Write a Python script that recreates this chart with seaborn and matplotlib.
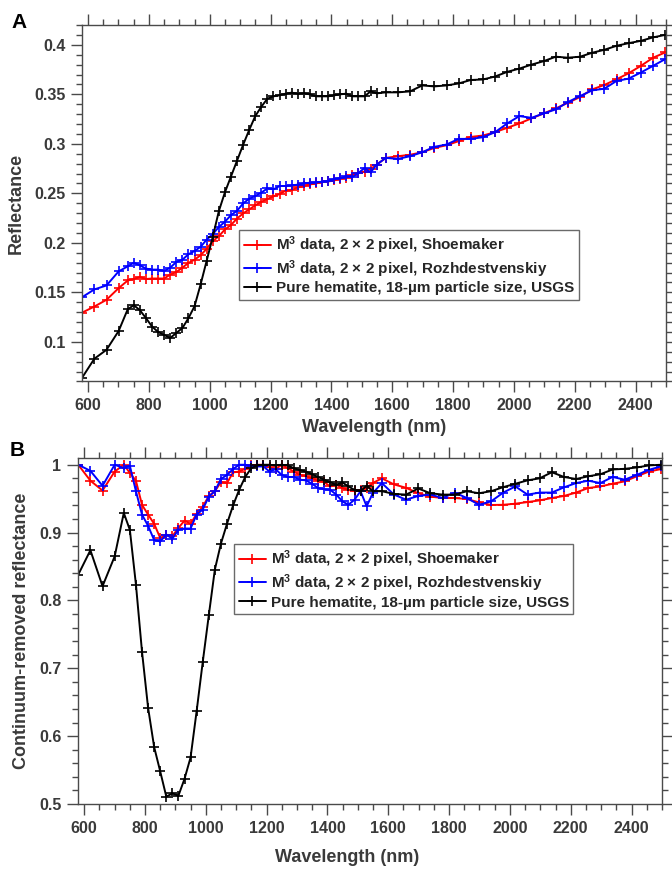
import numpy as np
import pandas as pd
import matplotlib
matplotlib.use("Agg")
import matplotlib.pyplot as plt
import seaborn as sns
from matplotlib.ticker import MultipleLocator, FuncFormatter

# ---------------- data ----------------
wavelength = [
    580.76, 620.69, 660.61, 700.54, 730.48, 750.44, 770.40, 790.37, 810.33, 830.29,
    850.25, 870.21, 890.17, 910.14, 930.10, 950.06, 970.02, 989.98, 1009.95, 1029.91,
    1049.87, 1069.83, 1089.79, 1109.76, 1129.72, 1149.68, 1169.64, 1189.60, 1209.57, 1229.53,
    1249.49, 1269.45, 1289.41, 1309.38, 1329.34, 1349.30, 1369.26, 1389.22, 1409.19, 1429.15,
    1449.11, 1469.07, 1489.03, 1508.99, 1528.96, 1548.92, 1578.86, 1618.79, 1658.71, 1698.63,
    1738.56, 1778.48, 1818.40, 1858.33, 1898.25, 1938.17, 1978.10, 2018.02, 2057.94, 2097.87,
    2137.79, 2177.71, 2217.64, 2257.56, 2297.48, 2337.41, 2377.33, 2417.25, 2457.18, 2497.10,
]

refl_shoemaker = [
    0.1296, 0.1357, 0.1425, 0.1543, 0.162, 0.1635, 0.1655, 0.1635, 0.164, 0.164,
    0.164, 0.168, 0.1705, 0.175, 0.1797, 0.183, 0.1875, 0.194, 0.2017, 0.2067,
    0.2135, 0.218, 0.2246, 0.2297, 0.2338, 0.2378, 0.2415, 0.2443, 0.247, 0.2493,
    0.2527, 0.2534, 0.256, 0.2574, 0.259, 0.260, 0.2615, 0.262, 0.263, 0.265,
    0.2658, 0.2689, 0.2706, 0.272, 0.2746, 0.279, 0.2858, 0.2875, 0.289, 0.2915,
    0.2959, 0.2986, 0.3027, 0.307, 0.3084, 0.3118, 0.3162, 0.3206, 0.3257, 0.3307,
    0.3358, 0.3415, 0.3473, 0.355, 0.3595, 0.3652, 0.3713, 0.3787, 0.3869, 0.3923,
]

refl_rozhdestvenskiy = [
    0.1452, 0.153, 0.157, 0.1712, 0.1763, 0.180, 0.1773, 0.174, 0.173, 0.173,
    0.1716, 0.175, 0.1807, 0.183, 0.1885, 0.1918, 0.196, 0.2033, 0.2088, 0.216,
    0.2213, 0.228, 0.2324, 0.2398, 0.2446, 0.2473, 0.2507, 0.255, 0.254, 0.2574,
    0.2574, 0.258, 0.2588, 0.260, 0.2608, 0.261, 0.2618, 0.2625, 0.2645, 0.2655,
    0.2672, 0.2665, 0.2706, 0.2756, 0.2712, 0.279, 0.2858, 0.2848, 0.2875, 0.2915,
    0.297, 0.2993, 0.305, 0.305, 0.3067, 0.3118, 0.3206, 0.328, 0.3263, 0.3307,
    0.3348, 0.3422, 0.3483, 0.354, 0.3557, 0.3635, 0.3659, 0.372, 0.3787, 0.3855,
]

refl_hematite = [
    0.064, 0.083, 0.092, 0.111, 0.133, 0.137, 0.132, 0.124, 0.1155, 0.110,
    0.107, 0.104, 0.109, 0.114, 0.124, 0.136, 0.158, 0.182, 0.206, 0.232,
    0.251, 0.267, 0.283, 0.299, 0.314, 0.328, 0.3375, 0.3456, 0.348, 0.349,
    0.3507, 0.3517, 0.3507, 0.351, 0.350, 0.348, 0.348, 0.348, 0.349, 0.350,
    0.3507, 0.348, 0.348, 0.348, 0.353, 0.351, 0.352, 0.352, 0.353, 0.359,
    0.358, 0.359, 0.361, 0.3645, 0.365, 0.368, 0.3727, 0.376, 0.380, 0.3835,
    0.388, 0.387, 0.388, 0.392, 0.395, 0.399, 0.4017, 0.404, 0.4075, 0.410,
]

cr_shoemaker = [
    1.0, 0.9765, 0.962, 0.990, 1.0, 0.988, 0.9765, 0.941, 0.9265, 0.913,
    0.892, 0.897, 0.8946, 0.907, 0.9176, 0.913, 0.9275, 0.938, 0.954, 0.961,
    0.9745, 0.973, 0.9887, 0.990, 0.994, 0.999, 1.0, 1.0, 0.996, 0.9936,
    1.0, 0.995, 0.990, 0.985, 0.983, 0.980, 0.9765, 0.9745, 0.968, 0.9706,
    0.9657, 0.963, 0.961, 0.963, 0.966, 0.973, 0.980, 0.971, 0.966, 0.958,
    0.953, 0.951, 0.951, 0.9495, 0.9446, 0.9407, 0.941, 0.9426, 0.945, 0.9475,
    0.951, 0.954, 0.959, 0.9657, 0.968, 0.972, 0.9755, 0.983, 0.990, 0.9936,
]

cr_rozhdestvenskiy = [
    1.0, 0.991, 0.969, 1.0, 0.995, 0.9985, 0.961, 0.9265, 0.910, 0.889,
    0.887, 0.897, 0.891, 0.9044, 0.906, 0.906, 0.9265, 0.934, 0.953, 0.961,
    0.979, 0.985, 0.9936, 1.0, 1.0, 0.9975, 0.9975, 0.9975, 0.990, 0.9936,
    0.985, 0.982, 0.982, 0.978, 0.977, 0.972, 0.9657, 0.964, 0.963, 0.956,
    0.946, 0.941, 0.9485, 0.961, 0.9387, 0.958, 0.973, 0.956, 0.9485, 0.954,
    0.956, 0.951, 0.959, 0.951, 0.941, 0.946, 0.959, 0.968, 0.956, 0.959,
    0.959, 0.9667, 0.973, 0.9765, 0.973, 0.982, 0.978, 0.985, 0.9926, 0.9975,
]

cr_hematite = [
    0.838, 0.874, 0.821, 0.865, 0.929, 0.904, 0.8235, 0.7245, 0.642, 0.584,
    0.548, 0.511, 0.5155, 0.5123, 0.537, 0.5686, 0.637, 0.709, 0.778, 0.8456,
    0.8838, 0.913, 0.940, 0.963, 0.982, 0.995, 0.999, 1.0, 1.0, 0.999,
    1.0, 0.999, 0.995, 0.992, 0.990, 0.986, 0.982, 0.978, 0.974, 0.9706,
    0.974, 0.968, 0.963, 0.961, 0.969, 0.961, 0.961, 0.957, 0.956, 0.965,
    0.958, 0.956, 0.956, 0.961, 0.958, 0.961, 0.967, 0.972, 0.977, 0.980,
    0.989, 0.982, 0.979, 0.983, 0.986, 0.993, 0.994, 0.996, 0.999, 1.0,
]

series_labels = [
    "M$^{3}$ data, 2 × 2 pixel, Shoemaker",
    "M$^{3}$ data, 2 × 2 pixel, Rozhdestvenskiy",
    "Pure hematite, 18-µm particle size, USGS",
]
series_colors = ["#ff0000", "#0000ff", "#000000"]

# ---------------- style ----------------
sns.set_style("ticks")
plt.rcParams["font.family"] = ["Liberation Sans", "DejaVu Sans"]
plt.rcParams["font.weight"] = "bold"
plt.rcParams["axes.labelweight"] = "bold"
plt.rcParams["mathtext.fontset"] = "custom"
plt.rcParams["mathtext.rm"] = "Liberation Sans:bold"
plt.rcParams["mathtext.bf"] = "Liberation Sans:bold"
plt.rcParams["mathtext.default"] = "rm"

TXT = "#3a3a3a"
AXC = "#4a4a4a"

fig = plt.figure(figsize=(6.72, 8.69), dpi=100)
axA = fig.add_axes([0.1220, 0.5610, 0.8690, 0.4102])
axB = fig.add_axes([0.1161, 0.0748, 0.8690, 0.3982])


def draw(ax, ys):
    for y, lab, col in zip(ys, series_labels, series_colors):
        df = pd.DataFrame({"wavelength": wavelength, "value": y})
        sns.lineplot(data=df, x="wavelength", y="value", ax=ax, color=col,
                     label=lab, marker="+", markersize=7, markeredgewidth=1.2,
                     markeredgecolor=col, linewidth=1.4, legend=False)


def style(ax):
    for s in ax.spines.values():
        s.set_visible(True)
        s.set_color(AXC)
        s.set_linewidth(1.0)
    ax.tick_params(which="both", direction="out", top=True, right=True,
                   color=AXC, labelcolor=TXT, labelsize=11.5, width=1.0)
    ax.tick_params(which="major", length=8, pad=4)
    ax.tick_params(which="minor", length=4.5)
    ax.set_xlim(580, 2500)
    ax.xaxis.set_major_locator(MultipleLocator(200))
    ax.xaxis.set_minor_locator(MultipleLocator(50))
    ax.yaxis.set_major_formatter(FuncFormatter(lambda v, p: f"{v:g}"))


draw(axA, [refl_shoemaker, refl_rozhdestvenskiy, refl_hematite])
style(axA)
axA.set_ylim(0.06, 0.42)
axA.yaxis.set_major_locator(MultipleLocator(0.05))
axA.yaxis.set_minor_locator(MultipleLocator(0.01))
axA.set_xlabel("Wavelength (nm)", fontsize=13, color=TXT, fontweight="bold")
axA.set_ylabel("Reflectance", fontsize=13, color=TXT, fontweight="bold")
axA.xaxis.set_label_coords(0.5, -0.105)
axA.yaxis.set_label_coords(-0.098, 0.5)

draw(axB, [cr_shoemaker, cr_rozhdestvenskiy, cr_hematite])
style(axB)
axB.set_ylim(0.5, 1.01)
axB.yaxis.set_major_locator(MultipleLocator(0.1))
axB.yaxis.set_minor_locator(MultipleLocator(0.02))
axB.set_xlabel("Wavelength (nm)", fontsize=13, color=TXT, fontweight="bold")
axB.set_ylabel("Continuum-removed reflectance", fontsize=13, color=TXT, fontweight="bold")
axB.xaxis.set_label_coords(0.4606, -0.13)
axB.yaxis.set_label_coords(-0.082, 0.5)

for ax, anchor in [(axA, (0.269, 0.425)), (axB, (0.267, 0.751))]:
    leg = ax.legend(loc="upper left", bbox_to_anchor=anchor, borderaxespad=0,
                    fancybox=False, edgecolor="#6a6a6a", framealpha=1,
                    fontsize=11, handlelength=1.8, handletextpad=0.3,
                    labelspacing=0.12, borderpad=0.3)
    leg.get_frame().set_linewidth(1.0)

fig.text(19 / 672, 1 - 23 / 869, "A", fontsize=15, fontweight="bold",
         ha="center", va="center", color="black")
fig.text(17 / 672, 1 - 451 / 869, "B", fontsize=15, fontweight="bold",
         ha="center", va="center", color="black")

fig.savefig("out.png", dpi=100)
